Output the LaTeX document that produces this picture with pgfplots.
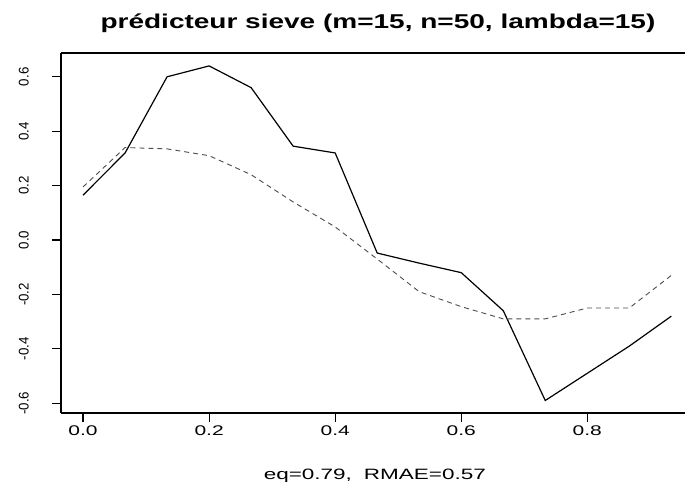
\documentclass[border=0pt]{standalone}
\usepackage{pgfplots}
\pgfplotsset{compat=1.18}
\usepackage{fontspec}
\setmainfont{Liberation Sans}
\newfontfamily\titlefont[FakeStretch=1.40]{Liberation Sans}
\newfontfamily\xtickfont[FakeStretch=1.5]{Liberation Sans}
\newfontfamily\ytickfont[FakeStretch=0.95]{Liberation Sans}
\begin{document}
\begin{tikzpicture}
\useasboundingbox (0,0) rectangle (685bp,482bp);
\begin{axis}[
  at={(61bp,69bp)}, anchor=south west,
  scale only axis, width=624bp, height=360bp,
  xmin=-0.035, xmax=0.955, ymin=-0.636, ymax=0.6875,
  axis x line*=box, axis y line*=left,
  axis line style={line width=1.4bp, black},
  xtick={0,0.2,0.4,0.6,0.8},
  ytick={-0.6,-0.4,-0.2,0,0.2,0.4,0.6},
  xtick pos=bottom, ytick pos=left,
  tick align=outside, major tick length=9bp,
  tick style={line width=1.2bp, black},
  /pgf/number format/assume math mode=true,
  /pgf/number format/.cd, fixed, fixed zerofill, precision=1, /tikz/.cd,
  xticklabel style={font=\xtickfont\fontsize{14bp}{16bp}\selectfont, anchor=north, inner sep=0pt, yshift=-4bp},
  yticklabel style={font=\ytickfont\fontsize{14bp}{16bp}\selectfont, rotate=90, anchor=south, inner sep=0pt, yshift=23bp},
  clip=false,
]
\addplot[black, line width=1.2bp] coordinates {
(0.0000,0.165) (0.0667,0.32) (0.1333,0.60) (0.2000,0.64) (0.2667,0.56)
(0.3333,0.345) (0.4000,0.32) (0.4667,-0.048) (0.5333,-0.085) (0.6000,-0.12)
(0.6667,-0.26) (0.7333,-0.59) (0.8000,-0.49) (0.8667,-0.39) (0.9333,-0.28)
};
\addplot[black!70, line width=0.9bp, dash pattern=on 5bp off 4bp] coordinates {
(0.0000,0.195) (0.0667,0.34) (0.1333,0.335) (0.2000,0.31) (0.2667,0.24)
(0.3333,0.14) (0.4000,0.048) (0.4667,-0.07) (0.5333,-0.19) (0.6000,-0.245)
(0.6667,-0.29) (0.7333,-0.29) (0.8000,-0.25) (0.8667,-0.25) (0.9333,-0.13)
};
\node[font=\titlefont\bfseries\fontsize{20bp}{23bp}\selectfont, anchor=base, inner sep=0pt]
  at (axis description cs:0.508,1.069) {prédicteur sieve (m=15, n=50, lambda=15)};
\node[font=\xtickfont\fontsize{15bp}{17bp}\selectfont, anchor=base, inner sep=0pt]
  at (axis description cs:0.503,-0.186) {eq=0.79,\hspace{0.8em}RMAE=0.57};
\end{axis}
\end{tikzpicture}
\end{document}
